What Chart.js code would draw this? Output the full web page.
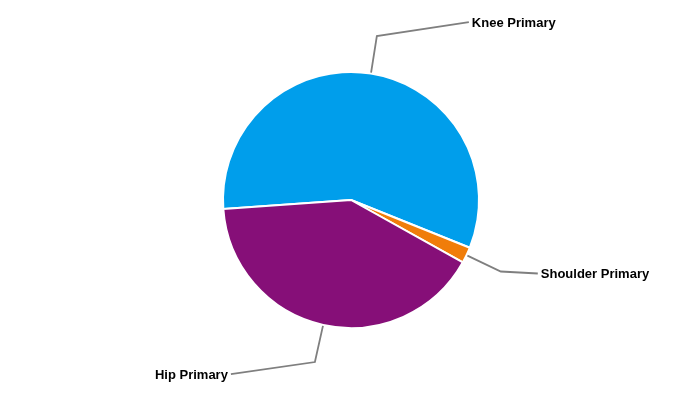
<!DOCTYPE html>
<html>
<head>
<meta charset="utf-8">
<script src="https://cdn.jsdelivr.net/npm/chart.js@4/dist/chart.umd.min.js"></script>
<style>
  html, body { margin: 0; padding: 0; background: #fff; }
  #wrap { width: 700px; height: 400px; }
</style>
</head>
<body>
<div id="wrap"><canvas id="pieChart"></canvas></div>
<script>
// chart data
const categories = ['Knee Primary', 'Shoulder Primary', 'Hip Primary'];
const shares = [57.2, 2.0, 40.8];
const sliceColors = ['#009EEB', '#F07D0A', '#860F78'];

// where each leader line ends, relative to its elbow
const labelOffsets = [[92, -14], [37, 2], [-84, 12]];

// leader lines + labels drawn after the arcs
const leaderLabels = {
    id: 'leaderLabels',
    afterDatasetsDraw(chart) {
        const ctx = chart.ctx;
        const meta = chart.getDatasetMeta(0);
        ctx.save();
        ctx.font = 'bold 13px "Liberation Sans", Arial, sans-serif';
        ctx.textBaseline = 'middle';
        meta.data.forEach((arc, i) => {
            const p = arc.getProps(['x', 'y', 'startAngle', 'endAngle', 'outerRadius'], true);
            const mid = (p.startAngle + p.endAngle) / 2;
            const cos = Math.cos(mid), sin = Math.sin(mid);
            const x0 = p.x + cos * (p.outerRadius + 1);
            const y0 = p.y + sin * (p.outerRadius + 1);
            const x1 = p.x + cos * (p.outerRadius + 38);
            const y1 = p.y + sin * (p.outerRadius + 38);
            const x2 = x1 + labelOffsets[i][0];
            const y2 = y1 + labelOffsets[i][1];
            ctx.strokeStyle = '#7f7f7f';
            ctx.lineWidth = 1.8;
            ctx.beginPath();
            ctx.moveTo(x0, y0);
            ctx.lineTo(x1, y1);
            ctx.lineTo(x2, y2);
            ctx.stroke();
            ctx.fillStyle = '#000';
            const right = labelOffsets[i][0] > 0;
            ctx.textAlign = right ? 'left' : 'right';
            ctx.fillText(categories[i], x2 + (right ? 3 : -3), y2 + 1);
        });
        ctx.restore();
    }
};

new Chart(document.getElementById('pieChart'), {
    type: 'pie',
    data: {
        labels: categories,
        datasets: [{
            data: shares,
            backgroundColor: sliceColors,
            borderColor: '#ffffff',
            borderWidth: 2
        }]
    },
    options: {
        responsive: true,
        maintainAspectRatio: false,
        animation: false,
        rotation: 266,
        layout: {
            padding: { top: 71, bottom: 71, left: 2, right: 0 }
        },
        plugins: {
            legend: { display: false },
            tooltip: { enabled: false }
        }
    },
    plugins: [leaderLabels]
});
</script>
</body>
</html>
